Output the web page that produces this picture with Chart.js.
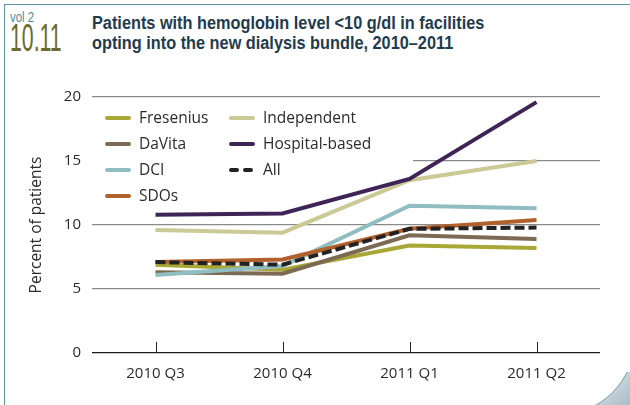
<!DOCTYPE html>
<html>
<head>
<meta charset="utf-8">
<script src="https://cdn.jsdelivr.net/npm/chart.js@4"></script>
<style>
  html, body { margin: 0; padding: 0; background: #fff; }
  body { width: 630px; height: 405px; position: relative; overflow: hidden; }
  #frame { position: absolute; left: 4px; top: 4px; width: 640px; height: 420px;
           border-left: 1.5px solid #5f95a5; border-top: 1.5px solid #5f95a5; }
  #corner { position: absolute; left: 590px; top: 372px; width: 40px; height: 33px; overflow: hidden;
            background: linear-gradient(135deg, #e8eff2, #a9bcc5); }
  #curl { position: absolute; left: -112px; top: -114px; width: 156px; height: 156px;
          border-radius: 50%; border: 1.5px solid #6f9aaa; background: #fff; }
  .cond { position: absolute; white-space: nowrap; transform-origin: 0 0; font-family: "Liberation Sans", Arial, sans-serif; }
  #vol { left: 10px; top: 9px; font-size: 14px; color: #4f8c9d; transform: scaleX(0.82); }
  #num { left: 10px; top: 19px; font-size: 38px; line-height: 38px; color: #6d6a2c; transform: scaleX(0.56); }
  #title { left: 92px; top: 14px; font-weight: bold; font-size: 18px; line-height: 19.5px; color: #1f3b4e; transform: scaleX(0.905); }
  canvas { position: absolute; left: 0; top: 0; }
</style>
</head>
<body>
<div id="frame"></div>
<div id="corner"><div id="curl"></div></div>
<div id="vol" class="cond">vol 2</div>
<div id="num" class="cond">10.11</div>
<div id="title" class="cond">Patients with hemoglobin level &lt;10 g/dl in facilities<br>opting into the new dialysis bundle, 2010–2011</div>
<canvas id="chart" width="630" height="405"></canvas>
<script>
// quarters and series (percent of patients)
const quarters = ['2010 Q3', '2010 Q4', '2011 Q1', '2011 Q2'];
const fresenius = [6.9, 6.5, 8.4, 8.2];
const davita = [6.3, 6.2, 9.2, 8.9];
const dci = [6.1, 6.8, 11.5, 11.3];
const sdos = [7.1, 7.3, 9.7, 10.4];
const independent = [9.6, 9.4, 13.5, 15.0];
const hospital = [10.8, 10.9, 13.6, 19.6];
const allFac = [7.1, 6.9, 9.7, 9.8];
const yTicks = [0, 5, 10, 15, 20];

const series = [
    { label: 'Fresenius', data: fresenius, color: '#a9a736', order: 6 },
    { label: 'DaVita', data: davita, color: '#7c6a52', order: 5 },
    { label: 'DCI', data: dci, color: '#8fbdc2', order: 4 },
    { label: 'SDOs', data: sdos, color: '#b1612b', order: 3 },
    { label: 'Independent', data: independent, color: '#cbc995', order: 2 },
    { label: 'Hospital-based', data: hospital, color: '#3f2456', order: 1 },
    { label: 'All', data: allFac, color: '#222222', order: 0, dash: [10, 4] }
];

const font = '"Open Sans", sans-serif';

// legend in two columns + x tick marks, drawn on the canvas
const extras = {
    id: 'extras',
    beforeDatasetsDraw(chart) {
        const c = chart.ctx;
        const area = chart.chartArea;
        const y = chart.scales.y;
        // legend sits over the left part of the 15 gridline
        c.save();
        c.fillStyle = '#fff';
        c.fillRect(area.left, y.getPixelForValue(15) - 3, 413 - area.left, 6);
        const cols = [[0, 1, 2, 3], [4, 5, 6]];
        const colX = [106, 230];
        c.font = '15.5px ' + font;
        c.textBaseline = 'middle';
        cols.forEach((col, ci) => {
            col.forEach((si, ri) => {
                const s = series[si];
                const ly = 118 + ri * 26;
                const x0 = colX[ci];
                c.strokeStyle = s.color;
                c.lineWidth = 4;
                c.lineCap = 'round';
                c.setLineDash(s.dash ? [6, 8] : []);
                c.beginPath();
                c.moveTo(x0 + 1, ly);
                c.lineTo(x0 + 23, ly);
                c.stroke();
                c.setLineDash([]);
                c.fillStyle = '#2b2b2b';
                c.fillText(s.label, x0 + 33, ly + 1);
            });
        });
        // small upward tick marks on the zero line
        const x = chart.scales.x;
        c.strokeStyle = '#222';
        c.lineWidth = 1;
        c.lineCap = 'butt';
        quarters.forEach((q, i) => {
            const px = Math.round(x.getPixelForValue(i)) + 0.5;
            c.beginPath();
            c.moveTo(px, area.bottom);
            c.lineTo(px, area.bottom - 11);
            c.stroke();
        });
        c.restore();
    }
};

new Chart(document.getElementById('chart'), {
    type: 'line',
    data: {
        labels: quarters,
        datasets: series.map(s => ({
            label: s.label,
            data: s.data,
            borderColor: s.color,
            backgroundColor: s.color,
            borderWidth: 4,
            borderDash: s.dash || [],
            pointRadius: 0,
            tension: 0,
            order: s.order
        }))
    },
    options: {
        responsive: false,
        animation: false,
        layout: { padding: { top: 97, right: 30, left: 0, bottom: 0 } },
        plugins: { legend: { display: false }, tooltip: { enabled: false } },
        scales: {
            x: {
                offset: true,
                grid: { display: false, drawTicks: false },
                border: { display: false },
                ticks: { color: '#2b2b2b', font: { family: font, size: 15 }, padding: 12 },
                afterFit(scale) { scale.height = 52; }
            },
            y: {
                min: 0, max: 20,
                afterBuildTicks(scale) { scale.ticks = yTicks.map(v => ({ value: v })); },
                grid: {
                    drawTicks: false,
                    color: ctx => ctx.tick && ctx.tick.value === 0 ? '#1a1a1a' : '#8a8a8a',
                    lineWidth: ctx => ctx.tick && ctx.tick.value === 0 ? 1.3 : 1.2
                },
                border: { display: false },
                ticks: { color: '#2b2b2b', font: { family: font, size: 15 }, padding: 11 },
                title: { display: true, text: 'Percent of patients', color: '#2b2b2b',
                         font: { family: font, size: 15.5 }, padding: { top: 27 } },
                afterFit(scale) { scale.width = 92; }
            }
        }
    },
    plugins: [extras]
});
</script>
</body>
</html>
